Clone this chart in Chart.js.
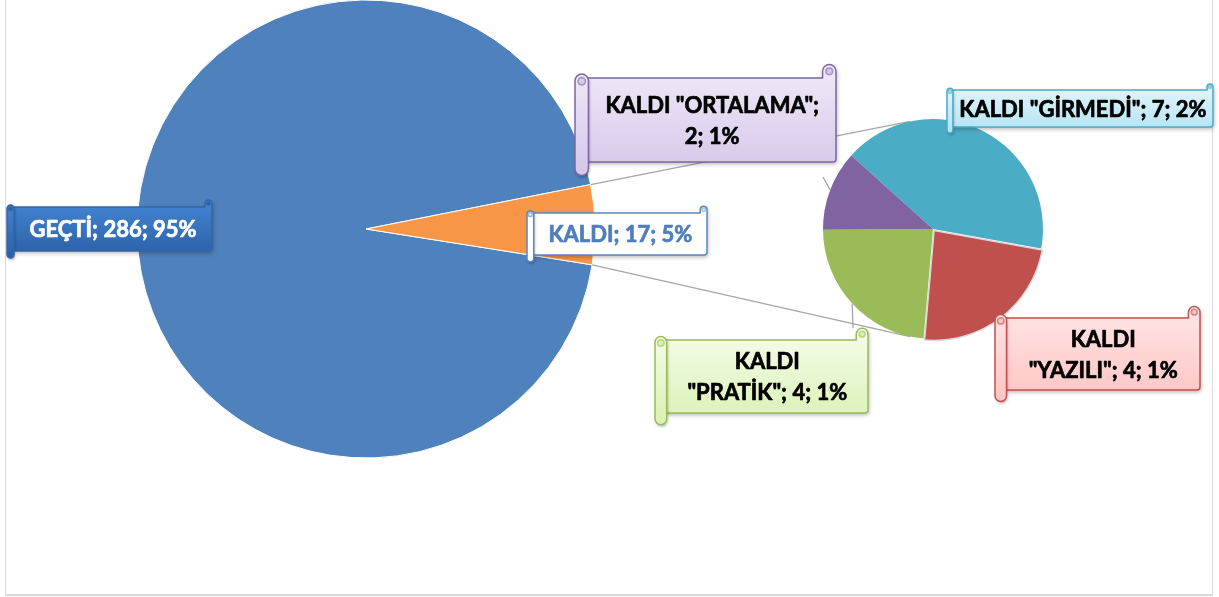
<!DOCTYPE html>
<html>
<head>
<meta charset="utf-8">
<script src="https://cdn.jsdelivr.net/npm/chart.js@4/dist/chart.umd.min.js"></script>
<style>
  html, body { margin: 0; padding: 0; background: #fff; }
  #wrap { position: relative; width: 1219px; height: 597px; overflow: hidden; }
  #frame { position: absolute; left: 5px; top: -2px; width: 1206px; height: 595px; border: 1px solid #d9d9d9; border-bottom-width: 2px; }
  canvas { position: absolute; left: 0; top: 0; }
</style>
</head>
<body>
<div id="wrap">
  <div id="frame"></div>
  <canvas id="main-pie" width="1219" height="597"></canvas>
  <canvas id="sub-pie" width="1219" height="597"></canvas>
</div>
<script>
// main pie
const mainLabels = ['GEÇTİ', 'KALDI'];
const mainValues = [286, 17];
const mainPercents = [95, 5];

// secondary pie (breakdown of KALDI)
const subLabels = ['KALDI "GİRMEDİ"', 'KALDI "YAZILI"', 'KALDI "PRATİK"', 'KALDI "ORTALAMA"'];
const subValues = [7, 4, 4, 2];
const subPercents = [2, 1, 1, 1];

const mainColors = ['#4f81bd', '#f79646'];
const subColors = ['#4bacc6', '#c0504d', '#9bbb59', '#8064a2'];

// scroll callouts: x = left edge of the roll, y/h = paper top/height
const callouts = [
  { pie: 'main', i: 0, x: 7, y: 207, w: 205, h: 44, fill: ['#4486d3', '#2a5fa6'], stroke: '#3465a6', color: '#ffffff', split: 'none' },
  { pie: 'main', i: 1, x: 527, y: 213, w: 180, h: 42, fill: ['#ffffff', '#ffffff'], stroke: '#5b87c3', color: '#4f7dbd', split: 'none' },
  { pie: 'sub', i: 0, x: 947, y: 90, w: 266, h: 37, fill: ['#e4f6fc', '#b2e3f3'], stroke: '#4bacc6', color: '#000000', split: 'none' },
  { pie: 'sub', i: 1, x: 995, y: 318, w: 205, h: 72, fill: ['#ffe6e6', '#ffc4c3'], stroke: '#c0504d', color: '#000000', split: 'word' },
  { pie: 'sub', i: 2, x: 655, y: 340, w: 213, h: 73, fill: ['#f6fdea', '#d9f1b5'], stroke: '#9bbb59', color: '#000000', split: 'word', leader: [853, 328] },
  { pie: 'sub', i: 3, x: 575, y: 78, w: 261, h: 84, fill: ['#f0eaf8', '#d5c6ea'], stroke: '#8064a2', color: '#000000', split: 'name', leader: [823, 177] }
];

const FONT = 'bold 22px Lato, "Open Sans", sans-serif';

function labelLines(c) {
  const names = c.pie === 'main' ? mainLabels : subLabels;
  const vals = c.pie === 'main' ? mainValues : subValues;
  const pcts = c.pie === 'main' ? mainPercents : subPercents;
  const name = names[c.i], tail = vals[c.i] + '; ' + pcts[c.i] + '%';
  if (c.split === 'name') return [name + ';', tail];
  if (c.split === 'word') {
    const k = name.indexOf(' ');
    return [name.slice(0, k), name.slice(k + 1) + '; ' + tail];
  }
  return [name + '; ' + tail];
}

function drawScroll(ctx, c) {
  const ch = Math.max(5, c.h * 0.16);
  const px = c.x + ch * 0.8, right = c.x + c.w, top = c.y, bot = c.y + c.h;
  const grad = ctx.createLinearGradient(0, top - ch, 0, bot + ch);
  grad.addColorStop(0, c.fill[0]);
  grad.addColorStop(1, c.fill[1]);
  ctx.save();
  ctx.lineWidth = 1.5;
  ctx.strokeStyle = c.stroke;
  ctx.lineJoin = 'round';

  // paper with the curl at top right
  ctx.shadowColor = 'rgba(0,0,0,0.3)';
  ctx.shadowBlur = 4;
  ctx.shadowOffsetX = 1;
  ctx.shadowOffsetY = 2;
  ctx.beginPath();
  ctx.moveTo(px, top);
  ctx.lineTo(right - ch, top);
  ctx.lineTo(right - ch, top - ch / 2);
  ctx.arc(right - ch / 2, top - ch / 2, ch / 2, Math.PI, 0);
  ctx.lineTo(right, bot - 3);
  ctx.quadraticCurveTo(right, bot, right - 3, bot);
  ctx.lineTo(px, bot);
  ctx.closePath();
  ctx.fillStyle = grad;
  ctx.fill();
  ctx.shadowColor = 'transparent';
  ctx.stroke();

  ctx.beginPath();
  ctx.arc(right - ch / 2, top - ch / 2, ch / 4, 0, Math.PI * 2);
  ctx.fillStyle = c.fill[1];
  ctx.fill();
  ctx.globalAlpha = 0.6;
  ctx.stroke();
  ctx.globalAlpha = 1;

  // left roll
  ctx.shadowColor = 'rgba(0,0,0,0.3)';
  ctx.shadowBlur = 3;
  ctx.shadowOffsetX = 1;
  ctx.shadowOffsetY = 2;
  ctx.beginPath();
  ctx.roundRect(c.x, top - ch * 0.3, ch, c.h + ch * 1.3, ch / 2);
  ctx.fillStyle = grad;
  ctx.fill();
  ctx.shadowColor = 'transparent';
  ctx.stroke();
  ctx.beginPath();
  ctx.arc(c.x + ch / 2, top + ch * 0.25, ch * 0.28, 0, Math.PI * 2);
  ctx.fillStyle = c.fill[1];
  ctx.fill();
  ctx.globalAlpha = 0.6;
  ctx.stroke();
  ctx.globalAlpha = 1;

  // text, with a hairline stroke to get closer to the heavy original weight
  const lines = labelLines(c);
  const cx = (c.x + ch + right) / 2, cy = (top + bot) / 2;
  const lh = 31;
  ctx.font = FONT;
  ctx.fillStyle = c.color;
  ctx.strokeStyle = c.color;
  ctx.lineWidth = 0.7;
  ctx.textAlign = 'center';
  ctx.textBaseline = 'middle';
  lines.forEach((t, k) => {
    const ty = cy + (k - (lines.length - 1) / 2) * lh + 1;
    ctx.fillText(t, cx, ty);
    ctx.strokeText(t, cx, ty);
  });
  ctx.restore();
}

function edgePoint(el, angle, r) {
  return [el.x + Math.cos(angle) * r, el.y + Math.sin(angle) * r];
}

const mainChart = new Chart(document.getElementById('main-pie'), {
  type: 'pie',
  data: {
    labels: mainLabels,
    datasets: [{
      data: mainValues,
      backgroundColor: mainColors,
      borderColor: '#ffffff',
      borderWidth: 1
    }]
  },
  options: {
    responsive: false,
    animation: false,
    rotation: 99,
    radius: 229,
    layout: { padding: { left: 137, top: 0, right: 624, bottom: 139 } },
    plugins: { legend: { display: false }, tooltip: { enabled: false } }
  }
});

// connectors, leader lines and the scroll labels sit on the top canvas
const calloutPlugin = {
  id: 'callouts',
  beforeDatasetsDraw(chart) {
    const ctx = chart.ctx;
    const kaldi = mainChart.getDatasetMeta(0).data[1];
    const sub = chart.getDatasetMeta(0).data[0];
    const tilt = 0.21;
    const a1 = edgePoint(kaldi, kaldi.startAngle, kaldi.outerRadius);
    const a2 = edgePoint(kaldi, kaldi.endAngle, kaldi.outerRadius);
    const b1 = edgePoint(sub, -Math.PI / 2 - tilt, sub.outerRadius);
    const b2 = edgePoint(sub, Math.PI / 2 + tilt, sub.outerRadius);
    ctx.save();
    ctx.strokeStyle = '#a6a6a6';
    ctx.lineWidth = 1.3;
    ctx.beginPath();
    ctx.moveTo(a1[0], a1[1]); ctx.lineTo(b1[0], b1[1]);
    ctx.moveTo(a2[0], a2[1]); ctx.lineTo(b2[0], b2[1]);
    ctx.stroke();
    ctx.restore();
  },
  afterDraw(chart) {
    const ctx = chart.ctx;
    const subMeta = chart.getDatasetMeta(0);
    ctx.save();
    ctx.strokeStyle = '#a6a6a6';
    ctx.lineWidth = 1.3;
    callouts.forEach(c => {
      if (!c.leader) return;
      const el = subMeta.data[c.i];
      const mid = (el.startAngle + el.endAngle) / 2;
      const p = edgePoint(el, mid, el.outerRadius);
      ctx.beginPath();
      ctx.moveTo(p[0], p[1]);
      ctx.lineTo(c.leader[0], c.leader[1]);
      ctx.stroke();
    });
    ctx.restore();
    callouts.forEach(c => drawScroll(ctx, c));
  }
};

new Chart(document.getElementById('sub-pie'), {
  type: 'pie',
  data: {
    labels: subLabels,
    datasets: [{
      data: subValues,
      backgroundColor: subColors,
      borderColor: ['#ffffff', '#d9d9d9', '#ffffff', '#ffffff'],
      borderWidth: [0, 1.5, 0, 0],
      offset: [0, 7, 0, 0]
    }]
  },
  options: {
    responsive: false,
    animation: false,
    rotation: -48,
    radius: 110,
    layout: { padding: { left: 813, top: 109, right: 166, bottom: 248 } },
    plugins: { legend: { display: false }, tooltip: { enabled: false } }
  },
  plugins: [calloutPlugin]
});
</script>
</body>
</html>
